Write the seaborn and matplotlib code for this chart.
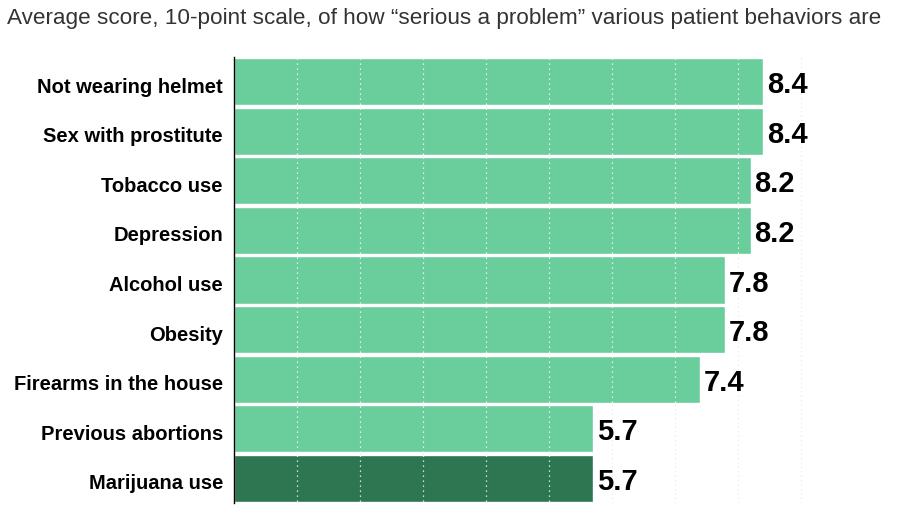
import matplotlib
matplotlib.use("Agg")
import matplotlib.pyplot as plt
import matplotlib.transforms as mtransforms
import seaborn as sns
import pandas as pd

behaviors = ["Not wearing helmet", "Sex with prostitute", "Tobacco use", "Depression",
             "Alcohol use", "Obesity", "Firearms in the house", "Previous abortions",
             "Marijuana use"]
scores = [8.4, 8.4, 8.2, 8.2, 7.8, 7.8, 7.4, 5.7, 5.7]
highlight = "Marijuana use"

df = pd.DataFrame({"behavior": behaviors, "score": scores})

sns.set_style("white")
plt.rcParams['font.family'] = ['Liberation Sans', 'DejaVu Sans']

fig = plt.figure(figsize=(9, 5.21), dpi=100)
ax = fig.add_axes([0.26, 0.034, 0.70, 0.857])

palette = {b: ("#2e7551" if b == highlight else "#6acd9c") for b in behaviors}
sns.barplot(data=df, y="behavior", x="score", hue="behavior", palette=palette,
            order=behaviors, width=0.95, saturation=1, legend=False, ax=ax, zorder=1)

ax.set_xlim(0, 10)
ax.set_ylim(len(behaviors) - 0.5, -0.5)
ax.set_xlabel("")
ax.set_ylabel("")
ax.set_xticks([])

# nudge text down a touch so it sits like the original
shift = mtransforms.ScaledTranslation(0, -2.5 / 72, fig.dpi_scale_trans)

# dotted gridlines: faint grey behind, white dotted over bars
for gx in range(1, 10):
    ax.axvline(gx, color="#e6e6e6", lw=0.8, ls=(0, (1, 3)), zorder=0)
for i, s in enumerate(scores):
    for gx in range(1, 10):
        if gx < s:
            ax.plot([gx, gx], [i - 0.47, i + 0.47], color="white", lw=0.9,
                    ls=(0, (1, 3)), zorder=2)
    ax.text(s + 0.06, i, f"{s:.1f}", va="center", ha="left", fontsize=21,
            fontweight="bold", color="black", transform=ax.transData + shift)

for sp in ["top", "right", "bottom"]:
    ax.spines[sp].set_visible(False)
ax.spines["left"].set_color("black")
ax.spines["left"].set_linewidth(1.0)
ax.tick_params(axis="y", length=0, pad=8)
for lab in ax.get_yticklabels():
    lab.set_fontsize(14.5)
    lab.set_fontweight("bold")
    lab.set_color("black")
    lab.set_transform(lab.get_transform() + shift)

fig.text(0.008, 0.965, "Average score, 10-point scale, of how \u201cserious a problem\u201d various patient behaviors are",
         fontsize=16.2, color="#333333", ha="left", va="center")

fig.savefig("out.png", dpi=100)
